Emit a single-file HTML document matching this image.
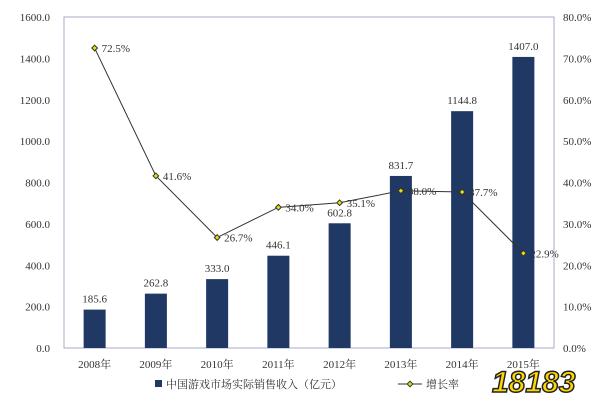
<!DOCTYPE html>
<html><head><meta charset="utf-8"><style>
body{margin:0;background:#fff;width:600px;height:409px;overflow:hidden}
svg text{font-family:"Liberation Serif","Noto Serif CJK SC",serif;font-size:11px;fill:#333}
</style></head><body>
<svg id="chart" width="600" height="409">
<rect x="64" y="17" width="490" height="331" fill="none" stroke="#a9a9c8" stroke-width="1"/>
<g id="g"></g>
</svg>
<script>
const categories=["2008年","2009年","2010年","2011年","2012年","2013年","2014年","2015年"];
const revenue=[185.6,262.8,333.0,446.1,602.8,831.7,1144.8,1407.0];
const growth=[72.5,41.6,26.7,34.0,35.1,38.0,37.7,22.9];
const leftTicks=[0,200,400,600,800,1000,1200,1400,1600];
const rightTicks=[0,10,20,30,40,50,60,70,80];
const L=64,R=554,T=17,B=348;
const ns="http://www.w3.org/2000/svg",g=document.getElementById('g');
const bw=(R-L)/categories.length;
const xc=i=>L+bw*(i+0.5);
const yL=v=>B-(v/1600)*(B-T);
const yR=v=>B-(v/80)*(B-T);
function el(t,a,txt){const e=document.createElementNS(ns,t);for(const k in a)e.setAttribute(k,a[k]);if(txt!=null)e.textContent=txt;g.appendChild(e);return e;}
leftTicks.forEach(v=>{const e=el('text',{x:50,y:yL(v)+4,'text-anchor':'end'},v.toFixed(1));

});
rightTicks.forEach(v=>{const e=el('text',{x:563,y:yR(v)+4},v.toFixed(1)+'%');

});
categories.forEach((c,i)=>{const e=el('text',{x:xc(i),y:368,'text-anchor':'middle'},c);

});
revenue.forEach((v,i)=>{const b=el('rect',{x:xc(i)-11,y:yL(v),width:22,height:B-yL(v),fill:'#1f3864'});


const t=el('text',{x:xc(i),y:yL(v)-7,'text-anchor':'middle'},v.toFixed(1));

});
const pl=el('polyline',{points:growth.map((v,i)=>xc(i)+','+yR(v)).join(' '),fill:'none',stroke:'#333','stroke-width':1});


growth.forEach((v,i)=>{const p=el('rect',{x:xc(i)-2,y:yR(v)-2,width:4,height:4,fill:'#e8e000',stroke:'#333','stroke-width':1,transform:`rotate(45 ${xc(i)} ${yR(v)})`});


const t=el('text',{x:xc(i)+7,y:yR(v)+4},v.toFixed(1)+'%');

});
let e=el('rect',{x:155,y:380,width:7,height:7,fill:'#1f3864'});

e=el('text',{x:166,y:388},'中国游戏市场实际销售收入（亿元）');

e=el('line',{x1:398,y1:384,x2:422,y2:384,stroke:'#333'});

e=el('rect',{x:408,y:382,width:4,height:4,fill:'#e8e000',stroke:'#333',transform:'rotate(45 410 384)'});

e=el('text',{x:426,y:388},'增长率');

e=el('text',{x:492,y:392,style:'font-family:"Liberation Sans",sans-serif;font-size:30px;font-weight:bold;fill:#ffd800;stroke:#222;stroke-width:1.5;font-style:italic'},'18183');

</script>
</body></html>
